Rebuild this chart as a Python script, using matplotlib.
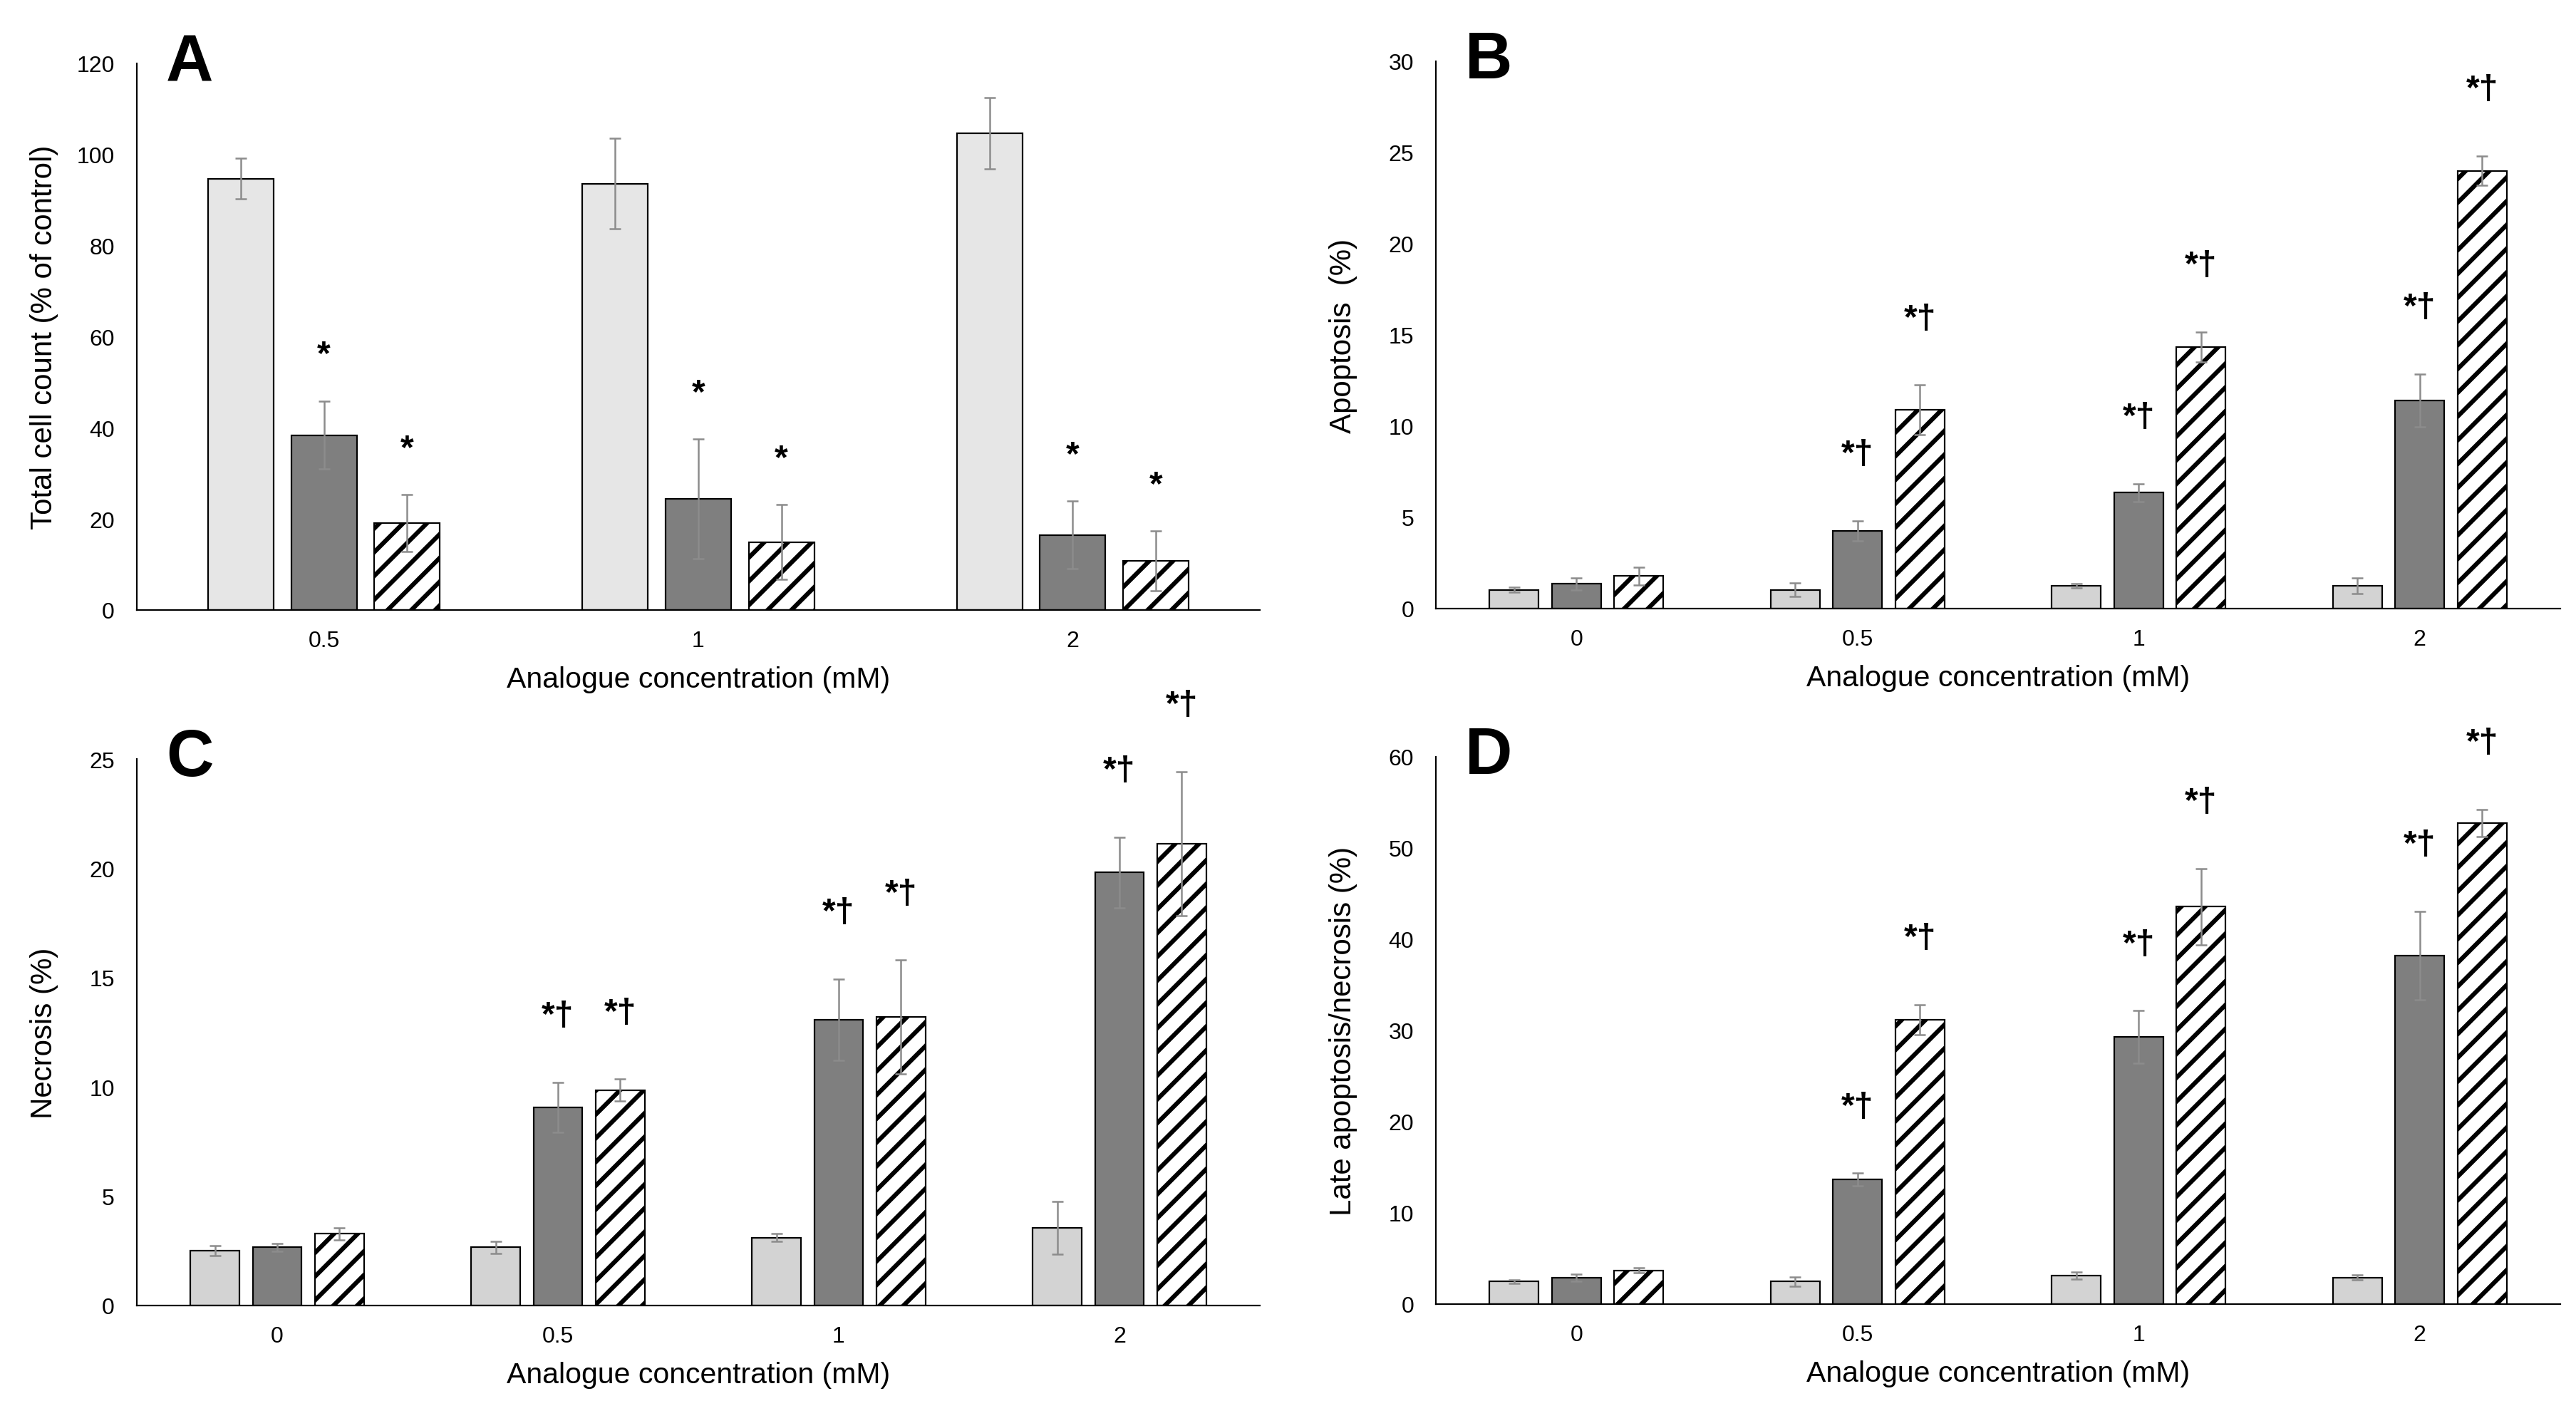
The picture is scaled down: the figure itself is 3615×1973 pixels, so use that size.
import numpy as np
import matplotlib
matplotlib.use("Agg")
import matplotlib.pyplot as plt

DPI = 100
W, H = 3615, 1974


def pt(px):
    # pixel size -> points at this dpi
    return px * 72.0 / DPI


plt.rcParams['font.family'] = ['Liberation Sans', 'DejaVu Sans']
plt.rcParams['hatch.linewidth'] = pt(6.2)
plt.rcParams['hatch.color'] = 'black'

# ---- data ----
conc_a = ['0.5', '1', '2']
conc_bcd = ['0', '0.5', '1', '2']

# A: total cell count (% of control)
count_light = [94.7, 93.6, 104.7]
count_light_err = [4.5, 9.9, 7.8]
count_dark = [38.4, 24.4, 16.5]
count_dark_err = [7.5, 13.1, 7.4]
count_hatch = [19.1, 14.9, 10.8]
count_hatch_err = [6.2, 8.2, 6.6]
count_marks_dark = ['*', '*', '*']
count_marks_hatch = ['*', '*', '*']

# B: apoptosis (%)
apo_light = [1.03, 1.03, 1.25, 1.25]
apo_light_err = [0.15, 0.37, 0.1, 0.42]
apo_dark = [1.35, 4.26, 6.35, 11.42]
apo_dark_err = [0.32, 0.54, 0.5, 1.45]
apo_hatch = [1.78, 10.9, 14.34, 24.0]
apo_hatch_err = [0.49, 1.35, 0.83, 0.8]

# C: necrosis (%)
nec_light = [2.51, 2.66, 3.11, 3.55]
nec_light_err = [0.23, 0.27, 0.17, 1.2]
nec_dark = [2.66, 9.07, 13.07, 19.81]
nec_dark_err = [0.17, 1.14, 1.87, 1.62]
nec_hatch = [3.28, 9.85, 13.2, 21.12]
nec_hatch_err = [0.27, 0.5, 2.6, 3.3]

# D: late apoptosis/necrosis (%)
late_light = [2.48, 2.48, 3.12, 2.92]
late_light_err = [0.2, 0.5, 0.4, 0.3]
late_dark = [2.92, 13.66, 29.3, 38.2]
late_dark_err = [0.4, 0.7, 2.87, 4.85]
late_hatch = [3.71, 31.19, 43.56, 52.72]
late_hatch_err = [0.3, 1.63, 4.2, 1.5]

marks_bcd = ['', '*†', '*†', '*†']

fig = plt.figure(figsize=(W / DPI, H / DPI), dpi=DPI)


def panel(rect, cats, vals, errs, marks, ymax, ystep, ylabel, letter, light):
    ax = fig.add_axes(rect)
    x = np.arange(len(cats))
    offs = [-0.222, 0.0, 0.222]
    faces = [light, '#7f7f7f', 'white']
    hatches = [None, None, '/']
    for k in range(3):
        ax.bar(x + offs[k], vals[k], 0.175, color=faces[k], edgecolor='black',
               linewidth=pt(2.2), hatch=hatches[k], zorder=2)
        ax.errorbar(x + offs[k], vals[k], yerr=errs[k], fmt='none', ecolor='#8c8c8c',
                    elinewidth=pt(2.5), capsize=pt(8.3), capthick=pt(2.5), zorder=3)
        for i in range(len(cats)):
            m = marks[k][i]
            if not m:
                continue
            if m == '*':
                y = vals[k][i] + errs[k][i] + 0.068 * ymax
            else:
                y = vals[k][i] + errs[k][i] + 0.105 * ymax
            ax.text(x[i] + offs[k], y, m, ha='center', va='baseline',
                    fontsize=pt(48), fontweight='bold')
    ax.set_xlim(-0.5, len(cats) - 0.5)
    ax.set_ylim(0, ymax)
    ax.set_yticks(np.arange(0, ymax + 0.1, ystep))
    ax.set_xticks(x)
    ax.set_xticklabels(cats)
    ax.tick_params(axis='both', length=0, labelsize=pt(32))
    ax.tick_params(axis='x', pad=pt(28))
    ax.tick_params(axis='y', pad=pt(31))
    for s in ['top', 'right']:
        ax.spines[s].set_visible(False)
    for s in ['left', 'bottom']:
        ax.spines[s].set_linewidth(pt(2.2))
    ax.set_xlabel('Analogue concentration (mM)', fontsize=pt(41), labelpad=pt(20))
    ax.set_ylabel(ylabel, fontsize=pt(42))
    ax.yaxis.set_label_coords(-0.07, 0.5)
    ax.text(0.026, 0.97, letter, transform=ax.transAxes, fontsize=pt(92),
            fontweight='bold', ha='left', va='baseline')
    return ax


none3 = ['', '', '']
none4 = ['', '', '', '']

panel([192 / W, 1 - 857 / H, 1576 / W, 767 / H], conc_a,
      [count_light, count_dark, count_hatch],
      [count_light_err, count_dark_err, count_hatch_err],
      [none3, count_marks_dark, count_marks_hatch],
      120, 20, 'Total cell count (% of control)', 'A', '#e6e6e6')

panel([2015 / W, 1 - 855 / H, 1578 / W, 768 / H], conc_bcd,
      [apo_light, apo_dark, apo_hatch],
      [apo_light_err, apo_dark_err, apo_hatch_err],
      [none4, marks_bcd, marks_bcd],
      30, 5, 'Apoptosis  (%)', 'B', '#d3d3d3')

panel([192 / W, 1 - 1833 / H, 1576 / W, 767 / H], conc_bcd,
      [nec_light, nec_dark, nec_hatch],
      [nec_light_err, nec_dark_err, nec_hatch_err],
      [none4, marks_bcd, marks_bcd],
      25, 5, 'Necrosis (%)', 'C', '#d3d3d3')

panel([2015 / W, 1 - 1831 / H, 1578 / W, 768 / H], conc_bcd,
      [late_light, late_dark, late_hatch],
      [late_light_err, late_dark_err, late_hatch_err],
      [none4, marks_bcd, marks_bcd],
      60, 10, 'Late apoptosis/necrosis (%)', 'D', '#d3d3d3')

fig.savefig('out.png', dpi=DPI)
